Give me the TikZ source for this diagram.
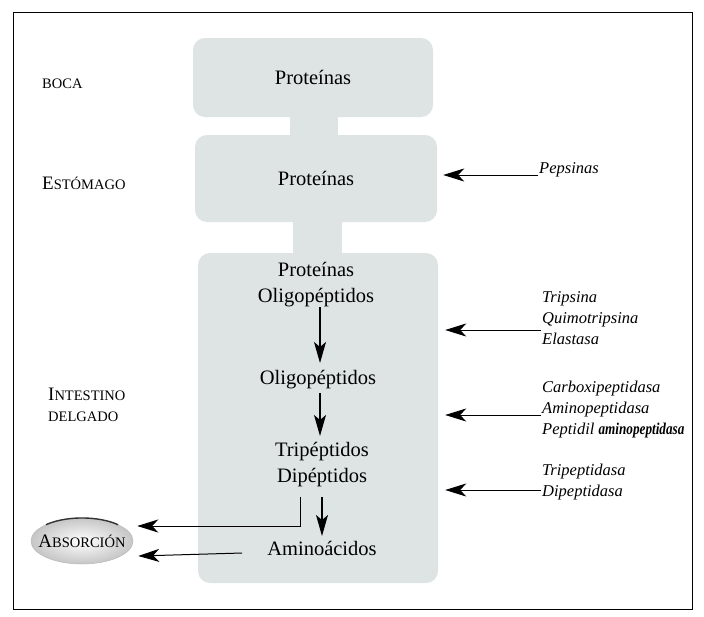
\documentclass[tikz,border=0pt]{standalone}
\usepackage{fontspec}
\setmainfont{Liberation Serif}
\usetikzlibrary{arrows.meta,shapes.geometric}
\definecolor{boxfill}{RGB}{222,228,228}
\newcommand{\bigsc}[1]{{\fontsize{19}{19}\selectfont #1}}
\newcommand{\smsc}[1]{{\fontsize{14.5}{14.5}\selectfont #1}}
\begin{document}
\begin{tikzpicture}[x=1pt,y=-1pt,
  stagebox/.style={draw=none, fill=boxfill, rounded corners=12pt, inner sep=0pt},
  main/.style={font=\fontsize{20.5}{26}\selectfont, align=center, inner sep=1pt},
  enz/.style={font=\fontsize{16.5}{21}\selectfont\itshape, align=left, anchor=west, inner sep=1pt},
  organ/.style={anchor=base west, inner sep=0pt},
  downarrow/.style={-{Stealth[length=21pt,width=12pt,inset=5pt]}, line width=1.3pt},
  sidearrow/.style={-{Stealth[length=21pt,width=13pt,inset=6pt]}, line width=1pt},
]
\useasboundingbox (0,0) rectangle (704,616);
\fill[white] (0,0) rectangle (704,616);
\draw[line width=0.9pt] (13,12) rectangle (692,609);

% stems between boxes
\fill[boxfill] (290,110) rectangle (338,140);
\fill[boxfill] (293,215) rectangle (342,258);

% stage boxes
\node[stagebox, minimum width=240pt, minimum height=79pt, font=\fontsize{20.5}{26}\selectfont] (b1) at (313,77.5) {Proteínas};
\node[stagebox, minimum width=242pt, minimum height=87pt, font=\fontsize{20.5}{26}\selectfont] (b2) at (316,178.5) {Proteínas};
\node[stagebox, minimum width=240pt, minimum height=330pt] (b3) at (318,418) {};

% texts in the intestine box
\node[main] (po) at (316,285) {Proteínas\\Oligopéptidos};
\node[main] (ol) at (318,380) {Oligopéptidos};
\node[main] (td) at (322,465) {Tripéptidos\\Dipéptidos};
\node[main] (am) at (322,548) {Aminoácidos};

\draw[downarrow] (320,307) -- (320,363);
\draw[downarrow] (320,393) -- (320,436);
\draw[downarrow] (322,497) -- (322,536);

% organ labels
\node[organ] (boca) at (42,88) {\smsc{BOCA}};
\node[organ] (esto) at (42,189) {\bigsc{E}\smsc{STÓMAGO}};
\node[organ] (int1) at (48,400) {\bigsc{I}\smsc{NTESTINO}};
\node[organ] (int2) at (48,421) {\smsc{DELGADO}};

% absorption pill
\node[ellipse, minimum width=102pt, minimum height=46pt, inner xsep=-8pt, inner ysep=0pt,
      inner color=white, outer color=gray!45, draw=gray!55, line width=0.5pt] (abs) at (82,541)
      {\bigsc{A}\smsc{BSORCIÓN}};
\draw[line width=1.4pt, black!80] (118.1,524.7) arc[start angle=45, end angle=135, x radius=51pt, y radius=23pt];

% enzyme labels
\node[enz] (pep) at (538,170) {Pepsinas};
\node[enz] (e1) at (541,318) {Tripsina\\Quimotripsina\\Elastasa};
\node[enz] (e2) at (541,410) {Carboxipeptidasa\\Aminopeptidasa\\Peptidil \scalebox{0.8}[1]{\bfseries aminopeptidasa}};
\node[enz] (e3) at (541,482) {Tripeptidasa\\Dipeptidasa};

% enzyme arrows
\draw[sidearrow] ([yshift=-5pt]pep.west) -- ([xshift=6pt]b2.east |- 0,175);
\draw[sidearrow] ([yshift=-12pt]e1.west) -- ([xshift=7pt]b3.east |- 0,330);
\draw[sidearrow] ([yshift=-5pt]e2.west) -- ([xshift=7pt]b3.east |- 0,415);
\draw[sidearrow] ([yshift=-8pt]e3.west) -- ([xshift=7pt]b3.east |- 0,490);

% absorption arrows
\coordinate (dp) at (300,497);
\draw[sidearrow] (dp) |- ([xshift=4pt,yshift=15pt]abs.east);
\draw[sidearrow] ([xshift=-24pt,yshift=-5pt]am.west) -- ([xshift=5pt,yshift=-15pt]abs.east);
\end{tikzpicture}
\end{document}
